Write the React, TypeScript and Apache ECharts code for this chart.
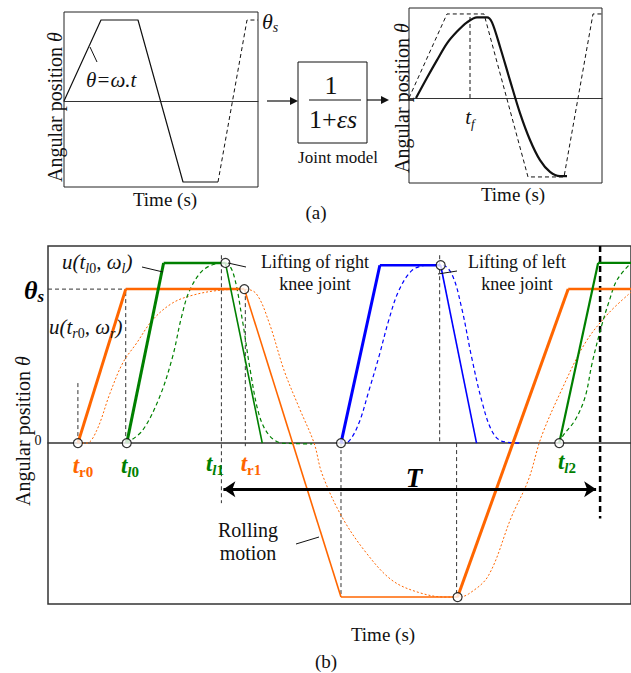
import React, { useEffect, useRef } from "react";
import * as echarts from "echarts";

const F = "'Liberation Serif', 'Times New Roman', serif";
const ORANGE = "#FF6600";
const GREEN = "#008000";
const BLUE = "#0000FF";

// ---------- (a) left: input trajectory ----------
const aInT = [0, 3.7, 7.4, 11.9, 15.4];
const aInTheta = [0, 1, 1, -1, -1];
const aDashT = [15.4, 18.3, 19.4];
const aDashTheta = [-1, 1, 1];

// ---------- (a) right: joint model response ----------
const bInT = [0, 3.8, 7.5, 11.9, 15.5, 18.4, 19.3];
const bInTheta = [0, 1, 1, -0.94, -0.94, 1, 1];
const bOutT = [0.7, 1.8, 2.8, 3.8, 4.8, 5.8, 6.8, 7.8, 8.3, 9.1, 10.1, 11.1, 12.1, 13.1, 14.1, 15.1, 15.8];
const bOutTheta = [0, 0.24, 0.45, 0.65, 0.79, 0.9, 0.96, 0.96, 0.9, 0.61, 0.21, -0.18, -0.5, -0.74, -0.88, -0.93, -0.93];
const tfT = 6.1;

// ---------- (b) gait trajectories ----------
const orangeT = [3.0, 7.8, 19.7, 29.4, 41.1, 52.2, 58.5];
const orangeTheta = [0, 1, 1, -1, -1, 1, 1];
const orangeW = [3, 2.5, 1.6, 1.6, 3, 2.5];

const green1T = [7.9, 11.6, 17.8, 21.5];
const green1Theta = [0, 1.17, 1.17, 0];
const green1W = [3, 2.5, 1.6];

const green2T = [51.3, 55.2, 58.5];
const green2Theta = [0, 1.17, 1.17];
const green2W = [2.2, 2.2];

const blueT = [29.4, 33.3, 39.4, 43.0];
const blueTheta = [0, 1.155, 1.155, 0];
const blueW = [3, 2.5, 1.6];

// responses (dashed / dotted)
const greenResp1T = [7.9, 9.5, 11.2, 12.5, 13.4, 14.2, 15.5, 16.9, 17.8, 18.6, 19.5, 20.3, 21.2, 22.2, 23.5, 26.5];
const greenResp1Th = [0, 0.084, 0.3, 0.56, 0.82, 0.99, 1.12, 1.165, 1.17, 1.1, 0.8, 0.47, 0.18, 0.05, 0, -0.005];

const greenResp2T = [51.3, 51.7, 52.9, 53.9, 54.6, 55.5, 56.3, 57.1, 58.5];
const greenResp2Th = [0, 0.05, 0.15, 0.3, 0.52, 0.75, 0.92, 1.06, 1.17];

const blueRespT = [29.4, 30.2, 31.2, 32.2, 33.2, 34.2, 35.2, 36.5, 37.9, 39.4, 40.5, 41.5, 42.5, 43.5, 44.5, 45.5, 47.5];
const blueRespTh = [0, 0.013, 0.13, 0.34, 0.56, 0.8, 0.99, 1.12, 1.155, 1.16, 1.1, 0.88, 0.56, 0.28, 0.084, 0.013, 0];

const orangeRespT = [3.0, 3.9, 4.9, 6.2, 7.5, 8.9, 10.5, 12.5, 14.5, 16.9, 19.7, 20.9, 22.2, 23.7, 25.2, 26.7, 27.5, 29.5, 31.9, 34.5, 37.2, 39.9, 41.1, 42.2, 44.2, 46.5, 48.2, 49.5, 51.5, 53.9, 56.2, 58.5];
const orangeRespTh = [0, 0, 0.084, 0.32, 0.52, 0.65, 0.8, 0.91, 0.96, 0.99, 1.0, 0.97, 0.78, 0.47, 0.23, 0.0, -0.2, -0.48, -0.71, -0.89, -0.97, -1.0, -1.0, -0.98, -0.86, -0.48, -0.24, 0.04, 0.34, 0.65, 0.84, 0.98];

// vertical guide lines
const guideT = [3.0, 7.8, 17.4, 19.8, 29.4, 39.3, 41.0];
const guideFrom = [0, 0, 1.22, 1.0, 0, 1.22, 0];
const guideTo = [0.4, 1, -0.39, -0.02, -1, 0, -1];
const thetaSGuideT = [0, 7.8];
const periodGuideT = 55.4;
const periodGuideFrom = 1.28;
const periodGuideTo = -0.49;

// hollow markers
const circT = [3.0, 7.9, 17.8, 19.7, 29.4, 39.4, 41.1, 51.3];
const circTh = [0, 0, 1.17, 1, 0, 1.155, -1, 0];

// period T arrow
const periodArrowT = [17.6, 55.0];
const periodArrowTh = -0.3;

function pts(xs: number[], ys: number[]) {
  return xs.map((x, i) => [x, ys[i]]);
}

function line(grid: number, xs: number[], ys: number[], style: any, extra: any = {}) {
  return {
    type: "line",
    xAxisIndex: grid,
    yAxisIndex: grid,
    data: pts(xs, ys),
    symbol: "none",
    silent: true,
    lineStyle: style,
    z: 3,
    ...extra,
  };
}

function segs(grid: number, xs: number[], ys: number[], widths: number[], color: string) {
  return widths.map((w, i) =>
    line(grid, [xs[i], xs[i + 1]], [ys[i], ys[i + 1]], { color, width: w }, { z: 4 })
  );
}

function tLabel(x: number, y: number, subA: string, subB: string, color: string, italicA: boolean) {
  return {
    type: "text",
    x,
    y,
    z: 20,
    style: {
      text: `{t|t}{${italicA ? "si" : "s"}|${subA}}{s|${subB}}`,
      align: "center",
      verticalAlign: "middle",
      rich: {
        t: { fontFamily: F, fontSize: 23, fontStyle: "italic", fontWeight: "bold", fill: color },
        si: { fontFamily: F, fontSize: 15, fontStyle: "italic", fontWeight: "bold", fill: color, padding: [14, 0, 0, 0] },
        s: { fontFamily: F, fontSize: 15, fontWeight: "bold", fill: color, padding: [14, 0, 0, 0] },
      },
    },
  };
}

function txt(x: number, y: number, text: string, size: number, rotation = 0) {
  return {
    type: "text",
    x,
    y,
    rotation,
    z: 20,
    style: {
      text,
      fontFamily: F,
      fontSize: size,
      fill: "#111",
      align: "center",
      verticalAlign: "middle",
    },
  };
}

function yName(x: number, y: number) {
  return {
    type: "text",
    x,
    y,
    rotation: Math.PI / 2,
    z: 20,
    style: {
      text: "{n|Angular position }{i|θ}",
      align: "center",
      verticalAlign: "middle",
      rich: {
        n: { fontFamily: F, fontSize: 20, fill: "#111" },
        i: { fontFamily: F, fontSize: 20, fontStyle: "italic", fill: "#111" },
      },
    },
  };
}

function seg(x1: number, y1: number, x2: number, y2: number, w = 1) {
  return { type: "line", z: 20, shape: { x1, y1, x2, y2 }, style: { stroke: "#111", lineWidth: w } };
}

function axisPair(gridIndex: number, xmin: number, xmax: number, ymin: number, ymax: number, zeroW: number, zeroC: string) {
  return {
    x: {
      type: "value",
      gridIndex,
      min: xmin,
      max: xmax,
      axisLine: { show: true, onZero: true, lineStyle: { color: zeroC, width: zeroW } },
      axisTick: { show: false },
      axisLabel: { show: false },
      splitLine: { show: false },
    },
    y: {
      type: "value",
      gridIndex,
      min: ymin,
      max: ymax,
      axisLine: { show: false },
      axisTick: { show: false },
      axisLabel: { show: false },
      splitLine: { show: false },
    },
  };
}

export default function App() {
  const ref = useRef<HTMLDivElement>(null);

  useEffect(() => {
    if (!ref.current) return;
    const chart = echarts.init(ref.current, undefined, { renderer: "svg" });

    const a0 = axisPair(0, 0, 19.4, -1.062, 1.099, 1, "#333");
    const a1 = axisPair(1, 0, 19.3, -1.012, 1.071, 1, "#333");
    const a2 = axisPair(2, 0, 58.5, -1.045, 1.28, 1.5, "#333");

    const series: any[] = [];
    // (a) left
    series.push(line(0, aInT, aInTheta, { color: "#111", width: 1.2 }));
    series.push(line(0, aDashT, aDashTheta, { color: "#111", width: 1, type: [4, 3] }));
    // (a) right
    series.push(line(1, bInT, bInTheta, { color: "#111", width: 1, type: [4, 3] }));
    series.push(line(1, bOutT, bOutTheta, { color: "#111", width: 2.2 }, { smooth: 0.3, z: 5 }));
    series.push(line(1, [tfT, tfT], [0, 1], { color: "#111", width: 1, type: [4, 3] }));

    // (b) guides
    guideT.forEach((g, i) => {
      series.push(line(2, [g, g], [guideFrom[i], guideTo[i]], { color: "#333", width: 1, type: [4, 3] }, { z: 2 }));
    });
    series.push(line(2, thetaSGuideT, [1, 1], { color: "#333", width: 1, type: [4, 3] }, { z: 2 }));
    series.push(
      line(2, [periodGuideT, periodGuideT], [periodGuideFrom, periodGuideTo], { color: "#000", width: 2.5, type: [6, 4] }, { z: 2 })
    );

    // (b) responses
    series.push(line(2, orangeRespT, orangeRespTh, { color: ORANGE, width: 1, type: [2, 2] }, { smooth: 0.35 }));
    series.push(line(2, greenResp1T, greenResp1Th, { color: GREEN, width: 1.2, type: [4, 3] }, { smooth: 0.35 }));
    series.push(line(2, greenResp2T, greenResp2Th, { color: GREEN, width: 1.2, type: [4, 3] }, { smooth: 0.35 }));
    series.push(line(2, blueRespT, blueRespTh, { color: BLUE, width: 1.2, type: [4, 3] }, { smooth: 0.35 }));

    // (b) commanded trajectories
    series.push(...segs(2, orangeT, orangeTheta, orangeW, ORANGE));
    series.push(...segs(2, green1T, green1Theta, green1W, GREEN));
    series.push(...segs(2, green2T, green2Theta, green2W, GREEN));
    series.push(...segs(2, blueT, blueTheta, blueW, BLUE));

    // period arrow
    series.push({
      type: "lines",
      coordinateSystem: "cartesian2d",
      xAxisIndex: 2,
      yAxisIndex: 2,
      symbol: ["arrow", "arrow"],
      symbolSize: 12,
      silent: true,
      z: 6,
      lineStyle: { color: "#000", width: 3, opacity: 1 },
      data: [{ coords: [[periodArrowT[0], periodArrowTh], [periodArrowT[1], periodArrowTh]] }],
    });

    // markers
    series.push({
      type: "scatter",
      xAxisIndex: 2,
      yAxisIndex: 2,
      data: pts(circT, circTh),
      symbol: "circle",
      symbolSize: 9,
      silent: true,
      z: 10,
      itemStyle: { color: "#fff", borderColor: "#000", borderWidth: 1.2 },
    });

    const graphic: any[] = [
      // (a) texts
      yName(55, 107),
      txt(165, 199, "Time (s)", 19),
      {
        type: "text", x: 86, y: 80, z: 20,
        style: { text: "θ=ω.t", fontFamily: F, fontSize: 21, fontStyle: "italic", fill: "#111", align: "left", verticalAlign: "middle" },
      },
      seg(90, 47, 97, 62),
      {
        type: "text", x: 262, y: 21, z: 20,
        style: {
          text: "{m|θ}{s|s}", align: "left", verticalAlign: "middle",
          rich: {
            m: { fontFamily: F, fontSize: 22, fontStyle: "italic", fill: "#111" },
            s: { fontFamily: F, fontSize: 14, fontStyle: "italic", fill: "#111", padding: [12, 0, 0, 0] },
          },
        },
      },
      // block diagram
      { type: "rect", z: 20, shape: { x: 298, y: 62, width: 69, height: 81 }, style: { fill: "#fff", stroke: "#111", lineWidth: 1 } },
      txt(331, 85, "1", 26),
      seg(309, 100, 361, 100, 1.2),
      {
        type: "text", x: 333, y: 119, z: 21,
        style: {
          text: "{n|1+}{i|εs}", align: "center", verticalAlign: "middle",
          rich: {
            n: { fontFamily: F, fontSize: 26, fill: "#111" },
            i: { fontFamily: F, fontSize: 26, fontStyle: "italic", fill: "#111" },
          },
        },
      },
      txt(338, 157, "Joint model", 17),
      seg(267, 101, 291, 101, 1.2),
      { type: "polygon", z: 20, shape: { points: [[290, 97], [298, 101], [290, 105]] }, style: { fill: "#111" } },
      seg(367, 100, 382, 100, 1.2),
      { type: "polygon", z: 20, shape: { points: [[381, 96], [389, 100], [381, 104]] }, style: { fill: "#111" } },
      yName(402, 98),
      txt(513, 194, "Time (s)", 19),
      {
        type: "text", x: 470, y: 117, z: 20,
        style: {
          text: "{m|t}{s|f}", align: "center", verticalAlign: "middle",
          rich: {
            m: { fontFamily: F, fontSize: 21, fontStyle: "italic", fill: "#111" },
            s: { fontFamily: F, fontSize: 13, fontStyle: "italic", fill: "#111", padding: [12, 0, 0, 0] },
          },
        },
      },
      txt(316, 212, "(a)", 19),

      // (b) texts
      yName(23, 431),
      txt(38, 440, "0", 14),
      {
        type: "text", x: 24, y: 290, z: 20,
        style: {
          text: "{m|θ}{s|s}", align: "left", verticalAlign: "middle",
          rich: {
            m: { fontFamily: F, fontSize: 26, fontStyle: "italic", fontWeight: "bold", fill: "#000" },
            s: { fontFamily: F, fontSize: 17, fontStyle: "italic", fontWeight: "bold", fill: "#000", padding: [12, 0, 0, 0] },
          },
        },
      },
      {
        type: "text", x: 62, y: 262, z: 20,
        style: {
          text: "{m|u(t}{si|l}{s|0}{m|, ω}{si|l}{m|)}", align: "left", verticalAlign: "middle",
          rich: {
            m: { fontFamily: F, fontSize: 21, fontStyle: "italic", fill: "#111" },
            si: { fontFamily: F, fontSize: 14, fontStyle: "italic", fill: "#111", padding: [12, 0, 0, 0] },
            s: { fontFamily: F, fontSize: 14, fill: "#111", padding: [12, 0, 0, 0] },
          },
        },
      },
      seg(142, 267, 163, 272),
      {
        type: "text", x: 49, y: 327, z: 20,
        style: {
          text: "{m|u(t}{si|r}{s|0}{m|, ω}{si|r}{m|)}", align: "left", verticalAlign: "middle",
          rich: {
            m: { fontFamily: F, fontSize: 21, fontStyle: "italic", fill: "#111" },
            si: { fontFamily: F, fontSize: 14, fontStyle: "italic", fill: "#111", padding: [12, 0, 0, 0] },
            s: { fontFamily: F, fontSize: 14, fill: "#111", padding: [12, 0, 0, 0] },
          },
        },
      },
      txt(315, 262, "Lifting of right", 18),
      txt(315, 284, "knee joint", 18),
      seg(228, 263, 246, 267),
      txt(517, 262, "Lifting of left", 18),
      txt(517, 284, "knee joint", 18),
      seg(438, 274, 457, 271),
      txt(248, 530, "Rolling", 20),
      txt(248, 553, "motion", 20),
      seg(296, 544, 319, 537),
      {
        type: "text", x: 414, y: 478, z: 20,
        style: { text: "T", fontFamily: F, fontSize: 27, fontStyle: "italic", fontWeight: "bold", fill: "#000", align: "center", verticalAlign: "middle" },
      },
      tLabel(83, 465, "r", "0", ORANGE, false),
      tLabel(130, 465, "l", "0", GREEN, true),
      tLabel(215, 463, "l", "1", GREEN, true),
      tLabel(251, 463, "r", "1", ORANGE, false),
      tLabel(567, 461, "l", "2", GREEN, true),
      txt(383, 634, "Time (s)", 19),
      txt(326, 661, "(b)", 19),
    ];

    chart.setOption({
      animation: false,
      backgroundColor: "#fff",
      grid: [
        { left: 64, top: 12, width: 194, height: 175, show: true, borderColor: "#222", borderWidth: 1 },
        { left: 409, top: 8, width: 193, height: 175, show: true, borderColor: "#222", borderWidth: 1 },
        { left: 48, top: 246, width: 587, height: 358, show: true, borderColor: "#333", borderWidth: 1.5 },
      ],
      xAxis: [a0.x, a1.x, a2.x],
      yAxis: [a0.y, a1.y, a2.y],
      series,
      graphic,
    });

    return () => chart.dispose();
  }, []);

  return (
    <div
      ref={ref}
      style={{ position: "fixed", left: 0, top: 0, width: 631, height: 673, background: "#fff" }}
    />
  );
}
